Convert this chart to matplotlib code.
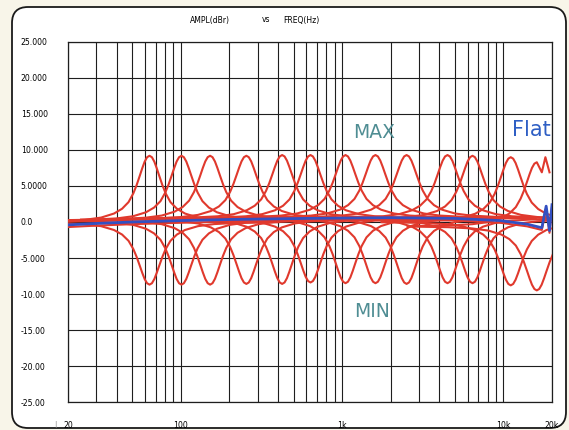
import numpy as np
import matplotlib
matplotlib.use("Agg")
import matplotlib.pyplot as plt
from matplotlib.patches import FancyBboxPatch
from matplotlib.transforms import IdentityTransform
from matplotlib.ticker import LogLocator, NullFormatter

# band centres (Hz) read from the peak positions, and peak/dip levels (dBr)
centers = [64, 101, 152, 255, 425, 637, 1050, 1610, 2510, 4500, 6430, 11100, 16100]
boost_peak = [9.2, 9.2, 9.2, 9.2, 9.3, 9.3, 9.3, 9.3, 9.3, 9.3, 9.2, 9.0, 8.3]
cut_peak = [-8.7, -8.7, -8.7, -8.6, -8.6, -8.4, -8.5, -8.5, -8.6, -8.5, -8.5, -8.8, -9.5]
base_level = [0.0, 0.2, 0.3, 0.4, 0.5, 0.5, 0.6, 0.6, 0.6, 0.5, 0.4, 0.0, -0.6]

shape_off = [0, 0.015, 0.03, 0.045, 0.06, 0.08, 0.1, 0.13, 0.17, 0.22, 0.3, 0.4, 0.55, 0.8]
shape_db = [9.0, 8.8, 8.2, 7.3, 6.3, 5.0, 3.9, 2.7, 1.8, 1.15, 0.6, 0.3, 0.12, 0.03]

# jagged top end of the highest boost curve
hf_tail_f = [17300, 18200, 19300]
hf_tail_db = [6.9, 9.0, 6.9]

# flat response (blue)
flat_f = [20, 30, 50, 100, 200, 600, 2000, 5000, 9500, 14000, 17300, 18400, 19300, 20000]
flat_db = [-0.4, -0.2, 0.0, 0.2, 0.35, 0.5, 0.6, 0.5, 0.2, -0.3, -0.8, 2.2, -1.2, 2.4]

y_ticks = [25, 20, 15, 10, 5, 0, -5, -10, -15, -20, -25]
y_labels = ["25.000", "20.000", "15.000", "10.000", "5.0000", "0.0",
            "-5.000", "-10.00", "-15.00", "-20.00", "-25.00"]
x_ticks = [20, 100, 1000, 10000, 20000]
x_labels = ["20", "100", "1k", "10k", "20k"]

W, H = 569, 430
fig = plt.figure(figsize=(W / 100, H / 100), dpi=100)
fig.patch.set_facecolor("#f8f5e9")

# rounded frame round the whole chart
frame = FancyBboxPatch((12, 2), 554, 421, boxstyle="round,pad=0,rounding_size=16",
                       transform=IdentityTransform(), facecolor="white",
                       edgecolor="#1a1a1a", linewidth=1.3, zorder=-1)
fig.add_artist(frame)

ax = fig.add_axes([68 / W, 1 - 402 / H, 484 / W, 360 / H])
ax.set_xscale("log")
ax.set_xlim(20, 20000)
ax.set_ylim(-25, 25)

red = "#e0392d"
blue = "#3350c2"

off = np.array([-o for o in shape_off[::-1]] + shape_off[1:])
shp = np.array(shape_db[::-1] + shape_db[1:]) / 9.0

for i, fc in enumerate(centers):
    f = fc * 10 ** off
    up = base_level[i] + (boost_peak[i] - base_level[i]) * shp
    dn = base_level[i] + (cut_peak[i] - base_level[i]) * shp
    if i == len(centers) - 1:
        keep = off <= 0
        f_up = np.concatenate([f[keep], hf_tail_f])
        up = np.concatenate([up[keep], hf_tail_db])
        ax.plot(f_up, up, color=red, lw=1.5, zorder=3)
    else:
        ax.plot(f, up, color=red, lw=1.5, zorder=3)
    ax.plot(f, dn, color=red, lw=1.5, zorder=3)

ax.plot(flat_f, np.array(flat_db) - 0.3, color=red, lw=1.5, zorder=3)
ax.plot(flat_f, flat_db, color=blue, lw=2.0, zorder=4)

ax.set_yticks(y_ticks, labels=y_labels)
ax.set_xticks(x_ticks, labels=x_labels)
ax.xaxis.set_minor_locator(LogLocator(base=10, subs=np.arange(2, 10)))
ax.xaxis.set_minor_formatter(NullFormatter())
ax.tick_params(which="both", length=0)
ax.tick_params(axis="y", pad=34, labelsize=5.6)
ax.tick_params(axis="x", pad=14, labelsize=5.6)
for lab in ax.get_yticklabels():
    lab.set_horizontalalignment("left")
ax.grid(True, which="both", color="#1e1e1e", lw=0.8)
for s in ax.spines.values():
    s.set_color("#1e1e1e")
    s.set_linewidth(0.9)

# heading
fig.text(210 / W, 1 - 20 / H, "AMPL(dBr)", fontsize=5.5, ha="center", va="center")
fig.text(266 / W, 1 - 20 / H, "vs", fontsize=5.5, ha="center", va="center")
fig.text(301 / W, 1 - 20 / H, "FREQ(Hz)", fontsize=5.5, ha="center", va="center")
fig.text(55 / W, 1 - 425 / H, "|", fontsize=5, color="#888888", ha="center", va="center")

# curve annotations
ax.text(1590, 12.4, "MAX", fontsize=13.5, color="#4f8d93", ha="center", va="center")
ax.text(14800, 12.8, "Flat", fontsize=15, color="#2f5fc4", ha="center", va="center")
ax.text(1525, -12.4, "MIN", fontsize=13.5, color="#4f8d93", ha="center", va="center")

fig.savefig("out.png", dpi=100, facecolor=fig.get_facecolor())
